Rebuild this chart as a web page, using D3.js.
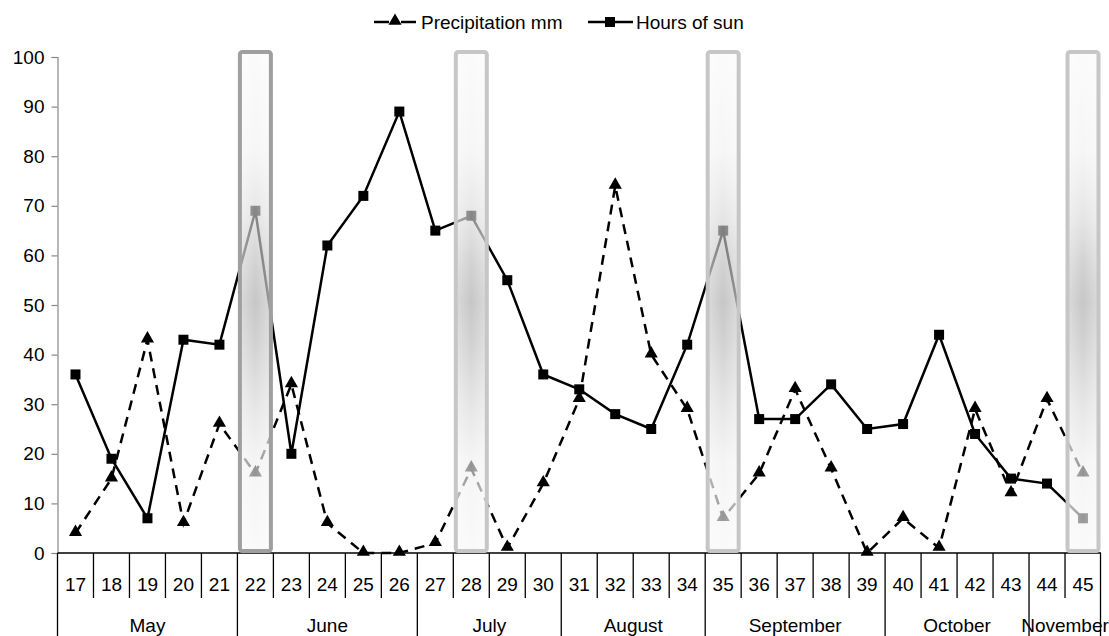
<!DOCTYPE html>
<html><head><meta charset="utf-8">
<script src="https://cdn.jsdelivr.net/npm/d3@7"></script>
<style>
html,body{margin:0;padding:0;background:#fff;}
svg text{font-family:"Liberation Sans",Arial,sans-serif;}
</style></head>
<body>
<svg id="chart" width="1109" height="636"></svg>
<script>
const weeks = ["17","18","19","20","21","22","23","24","25","26","27","28","29","30","31","32","33","34","35","36","37","38","39","40","41","42","43","44","45"];
const precipitation = [4,15,43,6,26,16,34,6,0,0,2,17,1,14,31,74,40,29,7,16,33,17,0,7,1,29,12,31,16];
const sunHours = [36,19,7,43,42,69,20,62,72,89,65,68,55,36,33,28,25,42,65,27,27,34,25,26,44,24,15,14,7];
const months = [
  {name:"May", from:"17", to:"21"},
  {name:"June", from:"22", to:"26"},
  {name:"July", from:"27", to:"30"},
  {name:"August", from:"31", to:"34"},
  {name:"September", from:"35", to:"39"},
  {name:"October", from:"40", to:"43"},
  {name:"November", from:"44", to:"45"}
];
const highlightWeeks = ["22","28","35","45"];
const yTicks = [0,10,20,30,40,50,60,70,80,90,100];

(function(){
const svg = d3.select("#chart");
const pLeft = 57.5, pRight = 1101, pTop = 57, pBottom = 553;
const x = d3.scaleBand().domain(weeks).range([pLeft, pRight]).padding(0);
const y = d3.scaleLinear().domain([0,100]).range([pBottom, pTop]);
const cx = w => x(w) + x.bandwidth()/2;

const defs = svg.append("defs");
const grad = defs.append("linearGradient").attr("id","hl").attr("x1",0).attr("y1",0).attr("x2",0).attr("y2",1);
[[0,"#f8f8f8"],[0.2,"#f0f0f0"],[0.33,"#d6d6d6"],[0.43,"#b4b4b4"],[0.5,"#a4a4a4"],[0.58,"#b4b4b4"],[0.7,"#d4d4d4"],[0.82,"#eeeeee"],[1,"#f6f6f6"]]
  .forEach(([o,c])=>grad.append("stop").attr("offset",o).attr("stop-color",c));
const hgrad = defs.append("linearGradient").attr("id","hlh").attr("x1",0).attr("y1",0).attr("x2",1).attr("y2",0);
[[0,"#ffffff",0.35],[0.5,"#ffffff",0],[1,"#ffffff",0.35]]
  .forEach(([o,c,a])=>hgrad.append("stop").attr("offset",o).attr("stop-color",c).attr("stop-opacity",a));

const yAxis = svg.append("g").attr("transform",`translate(${pLeft},0)`)
  .call(d3.axisLeft(y).tickValues(yTicks).tickSize(6).tickPadding(7).tickFormat(d3.format("d")));
yAxis.select(".domain").attr("stroke","#888").attr("stroke-width",1.2);
yAxis.selectAll(".tick line").attr("stroke","#888").attr("stroke-width",1.2);
yAxis.selectAll(".tick text").attr("font-size",19).attr("fill","#000")
  .attr("font-family","Liberation Sans, Arial, sans-serif");

svg.append("line").attr("x1",pLeft).attr("x2",pRight).attr("y1",pBottom).attr("y2",pBottom)
  .attr("stroke","#000").attr("stroke-width",1.3);

const monthStarts = new Set(months.map(m=>m.from));
const gx = svg.append("g");
weeks.forEach((w,i)=>{
  if(i===0) return;
  const isMonth = monthStarts.has(w);
  gx.append("line").attr("x1",x(w)).attr("x2",x(w)).attr("y1",pBottom).attr("y2",isMonth?636:598)
    .attr("stroke","#000").attr("stroke-width",1.3);
});
gx.append("line").attr("x1",pLeft).attr("x2",pLeft).attr("y1",pBottom).attr("y2",636).attr("stroke","#000").attr("stroke-width",1.3);
gx.append("line").attr("x1",pRight-0.5).attr("x2",pRight-0.5).attr("y1",pBottom).attr("y2",636).attr("stroke","#000").attr("stroke-width",1.3);

gx.selectAll("text.wk").data(weeks).join("text").attr("class","wk")
  .attr("x",d=>cx(d)).attr("y",591).attr("text-anchor","middle").attr("font-size",19).text(d=>d);

gx.selectAll("text.mo").data(months).join("text").attr("class","mo")
  .attr("x",d=>(x(d.from)+x(d.to)+x.bandwidth())/2).attr("y",632).attr("text-anchor","middle")
  .attr("font-size",19).text(d=>d.name);

const lineGen = d3.line().x((d,i)=>cx(weeks[i])).y(d=>y(d));
svg.append("path").datum(precipitation).attr("d",lineGen).attr("fill","none")
  .attr("stroke","#000").attr("stroke-width",2.5).attr("stroke-dasharray","10,7");
svg.append("path").datum(sunHours).attr("d",lineGen).attr("fill","none")
  .attr("stroke","#000").attr("stroke-width",2.5);

const tri = d3.symbol().type(d3.symbolTriangle).size(75);
svg.selectAll("path.tri").data(precipitation).join("path").attr("class","tri")
  .attr("d",tri).attr("transform",(d,i)=>`translate(${cx(weeks[i])},${y(d)-1})`).attr("fill","#000");
svg.selectAll("rect.sq").data(sunHours).join("rect").attr("class","sq")
  .attr("x",(d,i)=>cx(weeks[i])-5).attr("y",d=>y(d)-5).attr("width",10).attr("height",10).attr("fill","#000");

const hl = svg.append("g");
highlightWeeks.forEach((w,i)=>{
  const rx = cx(w) - 15.5;
  hl.append("rect").attr("x",rx).attr("y",52).attr("width",31).attr("height",499)
    .attr("fill","url(#hl)").attr("fill-opacity",0.62);
  hl.append("rect").attr("x",rx).attr("y",52).attr("width",31).attr("height",499)
    .attr("fill","url(#hlh)");
  hl.append("rect").attr("x",rx).attr("y",52).attr("width",31).attr("height",499).attr("rx",2.5)
    .attr("fill","none").attr("stroke", i===0 ? "#9f9f9f" : "#c6c6c6").attr("stroke-width",4);
});

const lg = svg.append("g");
lg.append("line").attr("x1",374).attr("x2",389).attr("y1",22).attr("y2",22)
  .attr("stroke","#000").attr("stroke-width",2.5);
lg.append("line").attr("x1",401).attr("x2",416).attr("y1",22).attr("y2",22)
  .attr("stroke","#000").attr("stroke-width",2.5);
lg.append("path").attr("d",tri).attr("transform","translate(395,21)").attr("fill","#000");
lg.append("text").attr("x",421).attr("y",29).attr("font-size",19).text("Precipitation mm");
lg.append("line").attr("x1",588).attr("x2",633).attr("y1",22).attr("y2",22)
  .attr("stroke","#000").attr("stroke-width",2.5);
lg.append("rect").attr("x",605).attr("y",17).attr("width",10).attr("height",10).attr("fill","#000");
lg.append("text").attr("x",636).attr("y",29).attr("font-size",19).text("Hours of sun");
})();
</script>
</body></html>
